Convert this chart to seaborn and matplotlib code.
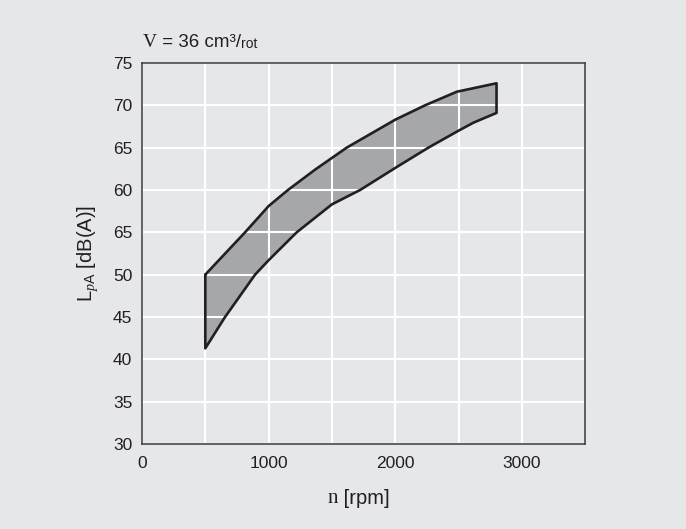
import matplotlib
matplotlib.use("Agg")
import matplotlib.pyplot as plt
import seaborn as sns
import numpy as np

# upper and lower bounds of the noise band
upper_n = [500, 814, 1000, 1153, 1367, 1617, 2000, 2236, 2486, 2800]
upper_l = [50.0, 55.0, 58.1, 60.0, 62.4, 65.0, 68.3, 70.0, 71.6, 72.6]
lower_n = [500, 656, 893, 1000, 1222, 1500, 1723, 2000, 2262, 2500, 2618, 2800]
lower_l = [41.3, 45.0, 50.0, 51.7, 55.0, 58.3, 60.0, 62.6, 65.0, 67.0, 67.95, 69.1]

x_ticks = [0, 1000, 2000, 3000]
y_ticks = [30, 35, 40, 45, 50, 55, 60, 65, 70, 75]
y_labels = ["30", "35", "40", "45", "50", "65", "60", "65", "70", "75"]

bg = "#e6e7e9"
ink = "#231f20"
sns.set_style("white", {"axes.facecolor": bg, "figure.facecolor": bg})
plt.rcParams["font.family"] = ["Liberation Sans", "DejaVu Sans"]
plt.rcParams["mathtext.fontset"] = "custom"
plt.rcParams["mathtext.rm"] = "Liberation Sans"
plt.rcParams["mathtext.it"] = "Liberation Serif:italic"
plt.rcParams["mathtext.sf"] = "Liberation Sans"

fig = plt.figure(figsize=(6.86, 5.29), dpi=100)
ax = fig.add_axes([0.207, 0.1607, 0.646, 0.7203])

xs = np.concatenate([upper_n, lower_n[::-1], upper_n[:1]])
ys = np.concatenate([upper_l, lower_l[::-1], upper_l[:1]])
ax.fill(xs, ys, color="#a6a7aa", zorder=1, lw=0)
sns.lineplot(x=xs, y=ys, sort=False, estimator=None, color=ink,
             lw=1.9, ax=ax, zorder=3)

ax.set_xlim(0, 3500)
ax.set_ylim(30, 75)
ax.set_xticks(x_ticks)
ax.set_xticks([500, 1500, 2500], minor=True)
ax.set_yticks(y_ticks)
ax.set_yticklabels(y_labels)
ax.set_axisbelow(False)
ax.grid(True, which="both", color="white", lw=1.5, zorder=2)
ax.tick_params(which="both", length=0, labelsize=12.5, colors=ink)
ax.tick_params(axis="x", pad=9)
ax.tick_params(axis="y", pad=7)
for s in ax.spines.values():
    s.set_color("#3a3a3a")
    s.set_linewidth(1.1)
    s.set_zorder(4)

ax.set_ylabel(r"L$_{\mathit{p}\mathsf{A}}$ [dB(A)]", fontsize=14.5,
              color=ink, labelpad=9)

# x label: serif "n" followed by sans "[rpm]"
xl1 = fig.text(0.477, 0.05, "n", fontsize=15, family="Liberation Serif",
               color=ink, ha="left", va="baseline")
ax.annotate(" [rpm]", xy=(1, 0), xycoords=xl1, fontsize=14.5, color=ink,
            va="bottom", ha="left", annotation_clip=False)

# header: serif "V", sans rest, small "rot"
t1 = fig.text(0.208, 0.911, "V", fontsize=14, family="Liberation Serif",
              color=ink, va="baseline")
t2 = ax.annotate(" = 36 cm³/", xy=(1, 0), xycoords=t1, fontsize=13.5,
                 color=ink, va="bottom", ha="left", annotation_clip=False)
ax.annotate("rot", xy=(1, 0), xycoords=t2, fontsize=10, color=ink,
            va="bottom", ha="left", annotation_clip=False)

fig.savefig("out.png", dpi=100, facecolor=bg)
